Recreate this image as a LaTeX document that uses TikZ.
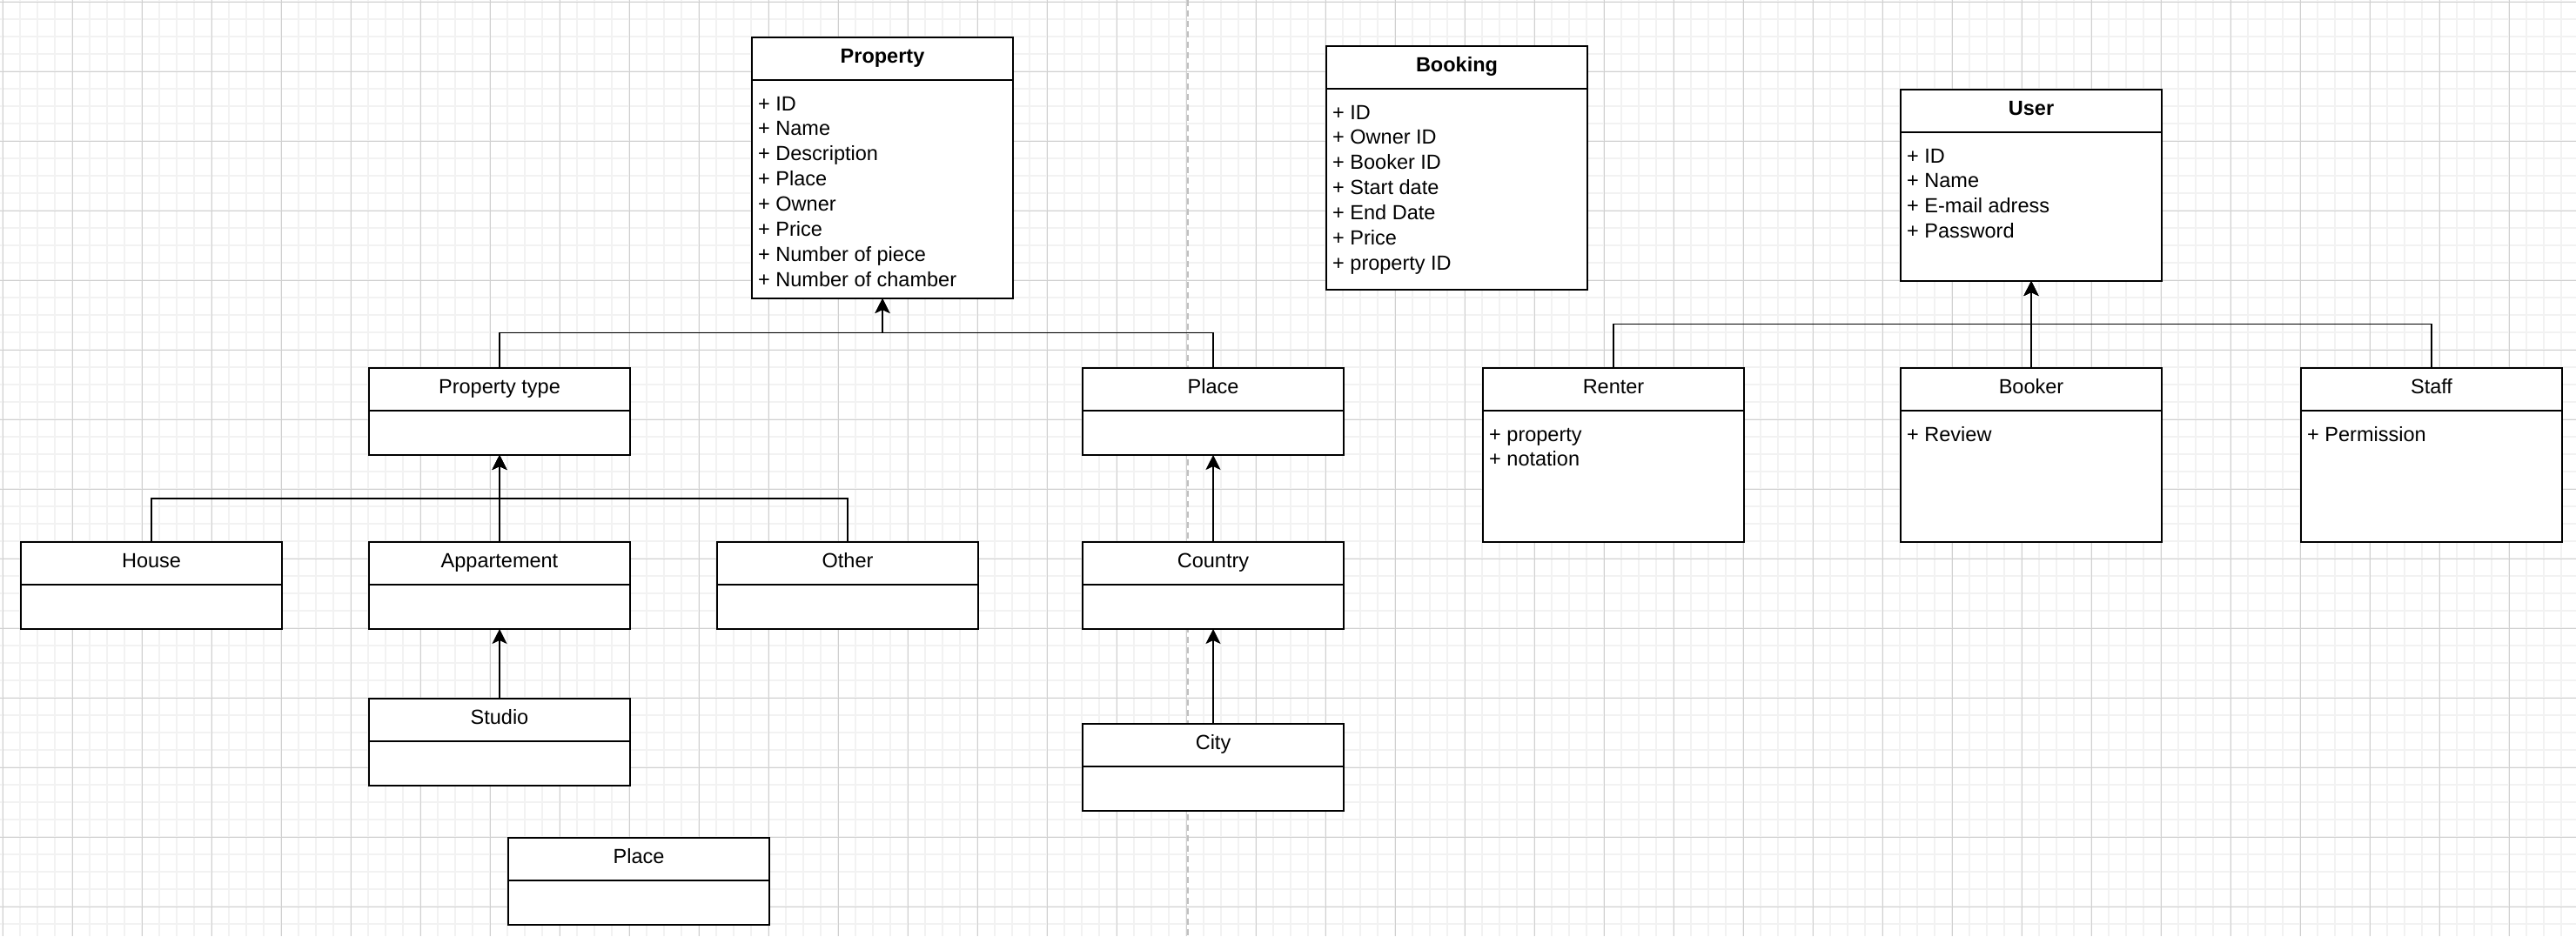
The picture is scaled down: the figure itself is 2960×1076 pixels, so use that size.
\documentclass[tikz,border=0pt]{standalone}
\usepackage{fontspec}
\setmainfont{Liberation Sans}
\usetikzlibrary{arrows.meta,calc}
\definecolor{minorgrid}{HTML}{F2F2F2}
\definecolor{majorgrid}{HTML}{D0D0D0}
\definecolor{pageline}{HTML}{C0C0C0}
\newcommand{\umlclass}[7]{%
  % #1 name, #2 x, #3 y, #4 height, #5 title, #6 title style, #7 attrs
  \node[classbox, minimum height=#4pt, anchor=north west] (#1) at (#2,#3) {};
  \draw[boxline] ([yshift=-49pt]#1.north west) -- ([yshift=-49pt]#1.north east);
  \node[#6, anchor=base] (#1-t) at ([yshift=-29.5pt]#1.north) {#5};
  \foreach \a [count=\i] in {#7} {
    \node[attrtext, anchor=base west] (#1-a\i) at ([xshift=7pt, yshift={-84pt-(\i-1)*28.9pt}]#1.north west) {\a};
  }%
}
\begin{document}
\begin{tikzpicture}[x=1pt, y=-1pt,
  classbox/.style={draw=black, line width=2pt, fill=white, minimum width=300pt, inner sep=0pt, outer sep=0pt},
  boxline/.style={draw=black, line width=2pt},
  titletext/.style={inner sep=0pt, font=\fontsize{23.5pt}{28.9pt}\selectfont},
  titlebold/.style={inner sep=0pt, font=\fontsize{23.5pt}{28.9pt}\selectfont\bfseries},
  attrtext/.style={inner sep=0pt, font=\fontsize{23.5pt}{28.9pt}\selectfont},
  conn/.style={draw=black, line width=1.8pt, -{Stealth[length=17pt,width=17pt,inset=4pt]}},
  minorline/.style={draw=minorgrid, line width=2pt},
  majorline/.style={draw=majorgrid, line width=1pt},
  pagebreak/.style={draw=pageline, line width=2pt, dash pattern=on 7pt off 5pt}
]
\useasboundingbox (0,0) rectangle (2960,1076);
\fill[white] (0,0) rectangle (2960,1076);
% grid
\foreach \k in {0,...,147} { \draw[minorline] ({3.3+20*\k},0) -- ({3.3+20*\k},1076); }
\foreach \k in {0,...,53} { \draw[minorline] (0,{2.3+20*\k}) -- (2960,{2.3+20*\k}); }
\foreach \k in {0,...,36} { \draw[majorline] ({3.3+80*\k},0) -- ({3.3+80*\k},1076); }
\foreach \k in {0,...,13} { \draw[majorline] (0,{2.3+80*\k}) -- (2960,{2.3+80*\k}); }
\draw[pagebreak] (1365,0) -- (1365,1076);

% classes
\umlclass{property}{864}{43}{300}{Property}{titlebold}{+ ID,+ Name,+ Description,+ Place,+ Owner,+ Price,+ Number of piece,+ Number of chamber}
\umlclass{booking}{1524}{53}{280}{Booking}{titlebold}{+ ID,+ Owner ID,+ Booker ID,+ Start date,+ End Date,+ Price,+ property ID}
\umlclass{user}{2184}{103}{220}{User}{titlebold}{+ ID,+ Name,+ E-mail adress,+ Password}
\umlclass{ptype}{424}{423}{100}{Property type}{titletext}{}
\umlclass{place}{1244}{423}{100}{Place}{titletext}{}
\umlclass{house}{24}{623}{100}{House}{titletext}{}
\umlclass{appart}{424}{623}{100}{Appartement}{titletext}{}
\umlclass{other}{824}{623}{100}{Other}{titletext}{}
\umlclass{studio}{424}{803}{100}{Studio}{titletext}{}
\umlclass{place2}{584}{963}{100}{Place}{titletext}{}
\umlclass{country}{1244}{623}{100}{Country}{titletext}{}
\umlclass{city}{1244}{832}{100}{City}{titletext}{}
\umlclass{renter}{1704}{423}{200}{Renter}{titletext}{+ property,+ notation}
\umlclass{booker}{2184}{423}{200}{Booker}{titletext}{+ Review}
\umlclass{staff}{2644}{423}{200}{Staff}{titletext}{+ Permission}

% junctions
\coordinate (jp) at (1014,382.5);
\coordinate (jt) at (574,572.7);
\coordinate (ju) at (2334,372.4);

% connectors
\draw[conn] (ptype.north) |- (jp) -- (property.south);
\draw[conn] (place.north) |- (jp) -- (property.south);
\draw[conn] (house.north) |- (jt) -- (ptype.south);
\draw[conn] (appart.north) -- (ptype.south);
\draw[conn] (other.north) |- (jt) -- (ptype.south);
\draw[conn] (studio.north) -- (appart.south);
\draw[conn] (country.north) -- (place.south);
\draw[conn] (city.north) -- (country.south);
\draw[conn] (renter.north) |- (ju) -- (user.south);
\draw[conn] (booker.north) -- (user.south);
\draw[conn] (staff.north) |- (ju) -- (user.south);
\end{tikzpicture}
\end{document}
